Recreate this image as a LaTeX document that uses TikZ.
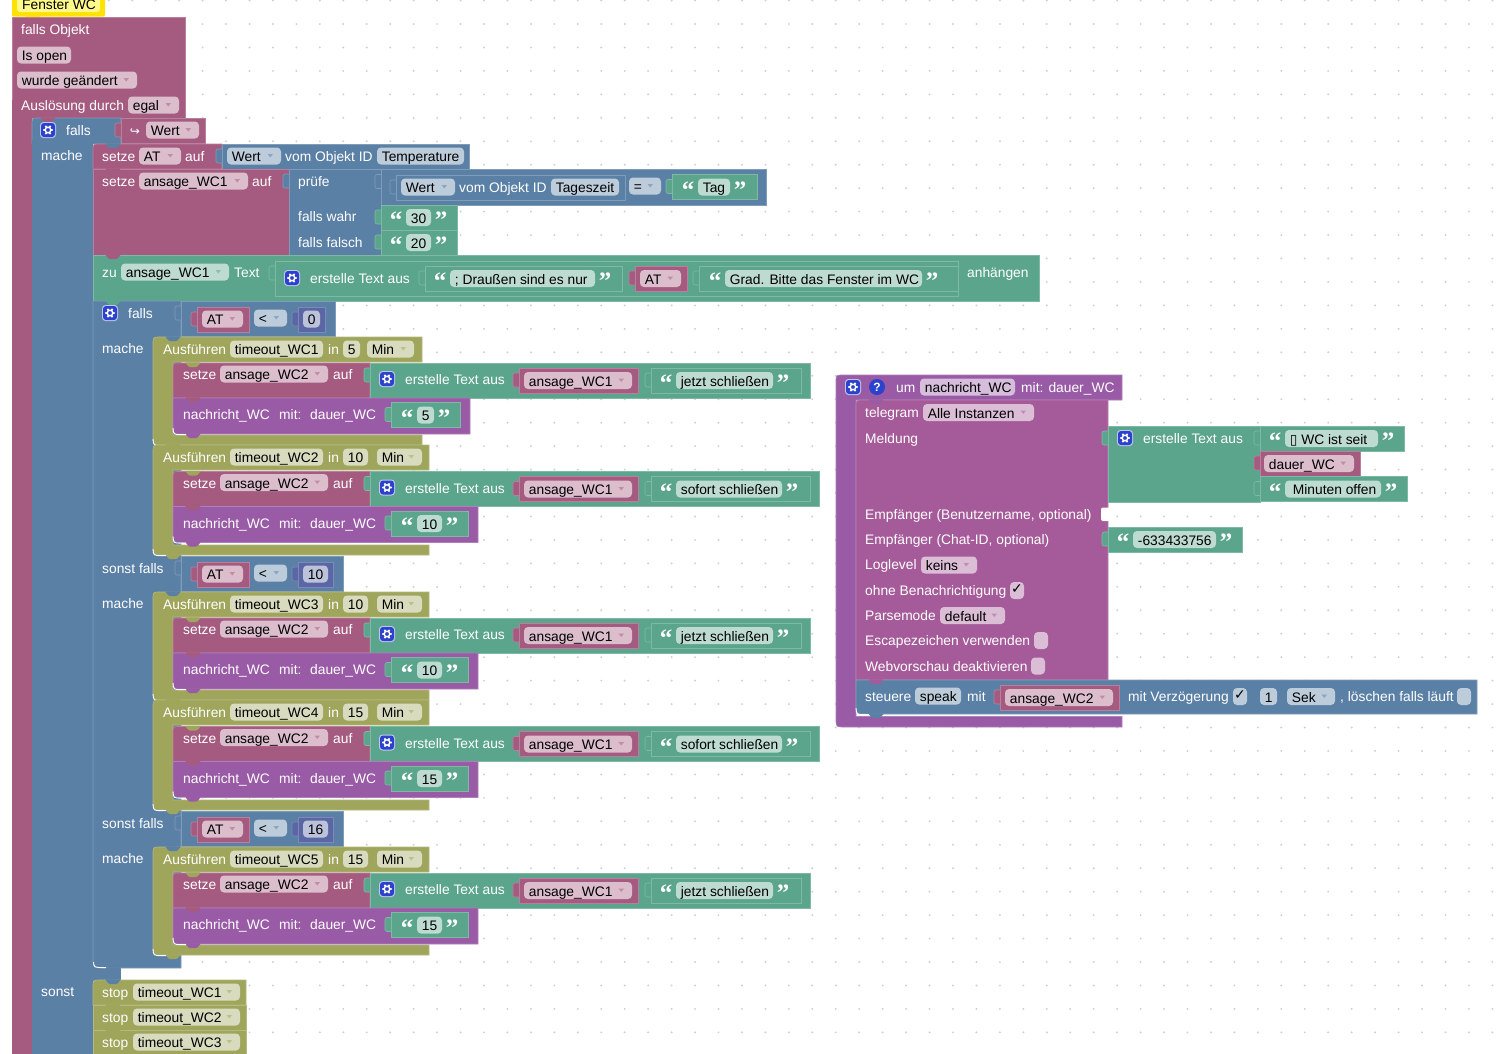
\documentclass[tikz,border=0pt]{standalone}
\usepackage{fontspec}
\setmainfont{Liberation Sans}
\newfontfamily\symfont{DejaVu Sans}
\newfontfamily\quotefont{Liberation Serif}
\definecolor{pink}{HTML}{A55B80}
\definecolor{blue}{HTML}{5B80A5}
\definecolor{green}{HTML}{5BA58C}
\definecolor{olive}{HTML}{9FA55B}
\definecolor{purple}{HTML}{995BA5}
\definecolor{mauve}{HTML}{A55B99}
\definecolor{indigo}{HTML}{5B67A5}
\definecolor{gearblue}{HTML}{2C42CC}
\newcounter{lblno}
\tikzset{
blk/.style={draw=#1!78!white,fill=#1,line width=.6pt},
lbl/.style={anchor=west,inner sep=0pt,yshift=-1.8pt,text height=10.5pt,text depth=3pt,font=\fontsize{13.8}{16}\selectfont},
}
\providecommand{\Blk}[7]{
\draw[blk=#1] (#2+#6,#3) -- (#4,#3) -- (#4,#5) -- (#2+#7,#5) .. controls (#2,#5) .. (#2,#5-#7) -- (#2,#3+#6) .. controls (#2,#3) .. (#2+#6,#3) -- cycle;
}
\providecommand{\Val}[5]{
\draw[blk=#1,rounded corners=2pt] (#2-6,#3+5) rectangle (#2+2,#3+19);
\Blk{#1}{#2}{#3}{#4}{#5}{0}{0}
}
\providecommand{\Bump}[3]{
\fill[#1,rounded corners=1pt] (#2+12,#3-.6) -- (#2+16,#3+4) -- (#2+24,#3+4) -- (#2+28,#3-.6) -- cycle;
}
\providecommand{\Shine}[2]{
\draw[white,line width=.9pt] (#1,#2-6) .. controls (#1+.5,#2+.5) .. (#1+8,#2+.6) -- (#1+13,#2+.6);
}
\providecommand{\Txt}[3]{
\stepcounter{lblno}
\node[lbl,white] (lbl\thelblno) at (#1,#2) {#3};
}
\providecommand{\Fld}[5]{
\fill[#1!40!white,rounded corners=4pt] (#2,#4-8.5) rectangle (#3,#4+8.5);
\stepcounter{lblno}
\node[lbl,black] (lbl\thelblno) at (#2+4.7,#4) {#5};
}
\providecommand{\Drp}[5]{
\Fld{#1}{#2}{#3}{#4}{#5}
\fill[#1!70!white] (#3-13.5,#4-2) -- (#3-8,#4-2) -- (#3-10.75,#4+1.5) -- cycle;
}
\providecommand{\Mark}[2]{
\stepcounter{lblno}
\node[lbl,black,anchor=center,yshift=1.8pt] (lbl\thelblno) at (#1,#2) {\symfont\fontsize{14}{14}\selectfont ✓};
}
\providecommand{\Str}[6]{
\Val{green}{#1}{#3-12.5}{#2}{#3+12.5}
\stepcounter{lblno}
\node[white,inner sep=0pt,font=\quotefont\bfseries\fontsize{25}{25}\selectfont] (lbl\thelblno) at (#4-10,#3+3) {“};
\stepcounter{lblno}
\node[white,inner sep=0pt,font=\quotefont\bfseries\fontsize{25}{25}\selectfont] (lbl\thelblno) at (#5+10,#3+3) {”};
\Fld{green}{#4}{#5}{#3}{#6}
}
\providecommand{\Gear}[2]{
\fill[white!70!gearblue,rounded corners=3.5pt] (#1-8,#2-8) rectangle (#1+8,#2+8);
\fill[gearblue,rounded corners=3pt] (#1-7,#2-7) rectangle (#1+7,#2+7);
\foreach \a in {0,60,...,300} {\fill[white] (#1,#2) ++(\a:3.9pt) circle (1.2pt);}
\draw[white,line width=1.4pt] (#1,#2) circle (2.8pt);
}
\providecommand{\Cond}[4]{
\Val{blue}{181}{#1}{#4}{#1+35}
\Val{pink}{197}{#1+6}{249}{#1+31}
\Drp{pink}{202}{243}{#1+18}{AT}
\Drp{blue}{254}{287}{#1+17}{<}
\Val{indigo}{298}{#1+6}{#2+5}{#1+31}
\Fld{indigo}{303}{#2}{#1+18}{#3}
}
\providecommand{\Timer}[9]{
\draw[blk=olive] (153+7,#1) -- (#8,#1) -- (#8,#1+25) -- (173,#1+25) -- (173,#1+#2-10) -- (#8,#1+#2-10) -- (#8,#1+#2) -- (153+9,#1+#2) .. controls (153,#1+#2) .. (153,#1+#2-9) -- (153,#1+7) .. controls (153,#1) .. (153+7,#1) -- cycle;
\Bump{#9}{153}{#1}
\Bump{olive}{153}{#1+#2}
\Shine{153}{#1+#2}
\Txt{163}{#1+12}{Ausführen}
\Fld{olive}{230}{323}{#1+12}{#3}
\Txt{328}{#1+12}{in}
\Fld{olive}{343}{#5}{#1+12}{#4}
\Drp{olive}{#6}{#7}{#1+12}{Min}
}
\providecommand{\Say}[9]{
\Blk{pink}{173}{#1+26}{370}{#1+61}{7}{0}
\Bump{olive}{173}{#1+26}
\Txt{183}{#1+37}{setze}
\Drp{pink}{220}{328}{#1+37}{ansage\_WC2}
\Txt{333}{#1+37}{auf}
\Val{green}{370}{#1+26}{#5}{#1+61}
\Gear{387}{#1+42}
\Txt{405}{#1+42}{erstelle Text aus}
\Val{pink}{519}{#1+31}{638}{#1+56}
\Drp{pink}{524}{632}{#1+43.5}{ansage\_WC1}
\Str{651}{#4}{#1+43.5}{676}{#3}{#2}
\Blk{purple}{173}{#1+61}{#9}{#1+97}{0}{9}
\Bump{pink}{173}{#1+61}
\Bump{purple}{173}{#1+97}
\Shine{173}{#1+97}
\Txt{183}{#1+77}{nachricht\_WC}
\Txt{279}{#1+77}{mit:}
\Txt{310}{#1+77}{dauer\_WC}
\Str{391}{#8}{#1+78}{417}{#7}{#6}
}
\begin{document}
\begin{tikzpicture}[x=1pt,y=-1pt]
\clip (0,0) rectangle (1500,1053);
\fill[white] (0,0) rectangle (1500,1053);
\foreach \i in {0,...,63} {\foreach \j in {0,...,44} {\fill[black!18] (15+23.45*\i,.55+23.45*\j) circle (1.1pt);}}
% trigger
\fill[yellow!85!orange,rounded corners=2pt] (12,-5) rectangle (105,16.7);
\fill[yellow!45!white,rounded corners=3pt] (17,-5) rectangle (100,12);
\Bump{yellow!85!orange}{13}{16.5}
\stepcounter{lblno}
\node[lbl,black] (lbl\thelblno) at (22,4) {Fenster WC};
\Blk{pink}{12}{17}{185}{118}{0}{0}
\fill[pink] (12,100) rectangle (32,1060);
\Txt{21}{29}{falls Objekt}
\Fld{pink}{17}{71}{55}{Is open}
\Drp{pink}{17}{137}{80}{wurde geändert}
\Txt{21}{105}{Auslösung durch}
\Drp{pink}{128}{179}{105}{egal}
% outer if
\Blk{blue}{32}{118}{121}{144}{7}{0}
\fill[blue] (32,140) rectangle (93,1060);
\fill[blue] (93,960) rectangle (121,981);
\Bump{pink}{28}{118}
\Gear{48}{130}
\Txt{66}{130}{falls}
\Txt{41}{155}{mache}
\Txt{41}{991}{sonst}
\Val{pink}{121}{118}{205}{143}
\stepcounter{lblno}
\node[lbl,white,anchor=center] (lbl\thelblno) at (135,130) {\symfont\fontsize{12}{12}\selectfont ↪};
\Drp{pink}{146}{199}{130}{Wert}
% values
\Blk{pink}{93}{144}{222}{169}{7}{0}
\Bump{blue}{93}{144}
\Txt{102}{156}{setze}
\Drp{pink}{139}{181}{156}{AT}
\Txt{185}{156}{auf}
\Val{blue}{222}{144}{469}{169}
\Drp{blue}{227}{281}{156}{Wert}
\Txt{285}{156}{vom Objekt ID}
\Fld{blue}{377}{464}{156}{Temperature}
\Blk{pink}{93}{169}{289}{255}{0}{0}
\Bump{pink}{93}{169}
\Txt{102}{181}{setze}
\Drp{pink}{139}{248}{181}{ansage\_WC1}
\Txt{252}{181}{auf}
\Val{blue}{289}{169}{381}{255}
\Txt{298}{181}{prüfe}
\Txt{298}{216}{falls wahr}
\Txt{298}{242}{falls falsch}
\Val{blue}{381}{169.5}{766}{205}
\Val{blue}{396}{175}{625}{200}
\Drp{blue}{401}{455}{187}{Wert}
\Txt{459}{187}{vom Objekt ID}
\Fld{blue}{551}{619}{187}{Tageszeit}
\Drp{blue}{629}{661}{186}{=}
\Str{672}{757}{187}{698}{730}{Tag}
\Str{381}{457}{217.5}{406}{431}{30}
\Str{381}{457}{242.5}{406}{431}{20}
\Blk{green}{93}{255}{1039}{301}{0}{0}
\Bump{pink}{93}{255}
\Txt{102}{272}{zu}
\Drp{green}{121}{229}{272}{ansage\_WC1}
\Txt{234}{272}{Text}
\Val{green}{275}{261}{958}{296.5}
\Gear{292}{278}
\Txt{310}{278}{erstelle Text aus}
\Str{425}{622.5}{278.5}{450}{595}{; Draußen sind es nur}
\Val{pink}{635}{266}{687}{291}
\Drp{pink}{640}{681}{278.5}{AT}
\Str{699}{958}{278.5}{725}{922}{Grad. Bitte das Fenster im WC}
\Txt{967}{272}{anhängen}
% inner if
\Blk{blue}{93}{301}{181}{968}{0}{10}
\Bump{green}{93}{301}
\Bump{blue}{93}{968}
\draw[white,line width=.9pt] (93.5,962) .. controls (94,967.3) .. (103,967.6) -- (106,967.6);
\Gear{110}{313}
\Txt{128}{313}{falls}
\Txt{102}{348}{mache}
\Txt{102}{568}{sonst falls}
\Txt{102}{603}{mache}
\Txt{102}{823}{sonst falls}
\Txt{102}{858}{mache}
\Cond{301}{320}{0}{335}
\Cond{556}{328}{10}{343}
\Cond{811}{328}{16}{343}
\Timer{337}{108}{timeout\_WC1}{5}{360}{367}{414}{422}{blue}
\Say{337}{jetzt schließen}{773}{801}{810}{5}{434}{460}{470}
\Timer{445}{110}{timeout\_WC2}{10}{368}{377}{422}{429}{olive}
\Say{445.5}{sofort schließen}{782}{810}{819}{10}{442}{468}{478}
\Timer{592}{108}{timeout\_WC3}{10}{368}{377}{422}{429}{blue}
\Say{592}{jetzt schließen}{773}{801}{810}{10}{442}{468}{478}
\Timer{700}{110}{timeout\_WC4}{15}{368}{377}{422}{429}{olive}
\Say{700.5}{sofort schließen}{782}{810}{819}{15}{442}{468}{478}
\Timer{847}{108}{timeout\_WC5}{15}{368}{377}{422}{429}{blue}
\Say{847}{jetzt schließen}{773}{801}{810}{15}{442}{468}{478}
% else
\Blk{olive}{93}{980}{246}{1005}{7}{0}
\Bump{blue}{93}{980}
\Txt{102}{992}{stop}
\Drp{olive}{133}{240}{992}{timeout\_WC1}
\Blk{olive}{93}{1005}{246}{1030}{0}{0}
\Bump{olive}{93}{1005}
\Txt{102}{1017}{stop}
\Drp{olive}{133}{240}{1017}{timeout\_WC2}
\Blk{olive}{93}{1030}{246}{1055}{0}{0}
\Bump{olive}{93}{1030}
\Txt{102}{1042}{stop}
\Drp{olive}{133}{240}{1042}{timeout\_WC3}
% function
\draw[blk=purple] (836+7,375) -- (1122,375) -- (1122,400) -- (856,400) -- (856,716.5) -- (1122,716.5) -- (1122,727) -- (836+8,727) .. controls (836,727) .. (836,719) -- (836,382) .. controls (836,375) .. (836+7,375) -- cycle;
\Gear{853}{387}
\fill[gearblue] (877,387) circle (8pt);
\stepcounter{lblno}
\node[white,inner sep=0pt,font=\bfseries\fontsize{12}{12}\selectfont] (lbl\thelblno) at (877,387) {?};
\Txt{896}{387}{um}
\Fld{purple}{920}{1015}{387}{nachricht\_WC}
\Txt{1021}{387}{mit: dauer\_WC}
\Blk{mauve}{856}{400}{1108}{680}{7}{0}
\Bump{purple}{856}{400}
\Txt{865}{412}{telegram}
\Drp{mauve}{923}{1034}{412.5}{Alle Instanzen}
\Txt{865}{438}{Meldung}
\fill[white,rounded corners=2pt] (1101,507.5) rectangle (1110,521);
\Txt{865}{514}{Empfänger (Benutzername, optional)}
\Txt{865}{539}{Empfänger (Chat-ID, optional)}
\Txt{865}{564}{Loglevel}
\Drp{mauve}{921}{977}{565}{keins}
\Txt{865}{590}{ohne Benachrichtigung}
\Fld{mauve}{1010}{1024}{590.5}{}
\Mark{1017}{590}
\Txt{865}{615}{Parsemode}
\Drp{mauve}{940}{1005}{615.5}{default}
\Txt{865}{640}{Escapezeichen verwenden}
\Fld{mauve}{1034}{1048}{640.5}{}
\Txt{865}{666}{Webvorschau deaktivieren}
\Fld{mauve}{1031}{1045}{666}{}
\Blk{blue}{856}{680}{1477}{714}{0}{9}
\Bump{mauve}{856}{680}
\Bump{blue}{856}{714}
\Shine{856}{714}
\Txt{865}{696}{steuere}
\Fld{blue}{915}{961}{696}{speak}
\Txt{967}{696}{mit}
\Val{pink}{1000}{685}{1119}{710}
\Drp{pink}{1005}{1113}{697.5}{ansage\_WC2}
\Txt{1128}{696}{mit Verzögerung}
\Fld{blue}{1233}{1247}{696.5}{}
\Mark{1240}{696}
\Fld{blue}{1260}{1277}{696.5}{1}
\Drp{blue}{1287}{1335}{696.5}{Sek}
\Txt{1340}{696}{, löschen falls läuft}
\Fld{blue}{1457}{1471}{696.5}{}
% message
\Val{green}{1108}{426}{1260}{502}
\Gear{1125}{438}
\Txt{1143}{438}{erstelle Text aus}
\Str{1260}{1404}{438.5}{1285}{1378}{{\symfont ▯} WC ist seit}
\Val{pink}{1260}{451}{1360}{476}
\Drp{pink}{1264}{1354}{463.5}{dauer\_WC}
\Str{1260}{1407}{489}{1285}{1381}{\hspace{3pt}Minuten offen}
\Str{1108}{1242}{539.5}{1133}{1216}{-633433756}
\end{tikzpicture}
\end{document}
